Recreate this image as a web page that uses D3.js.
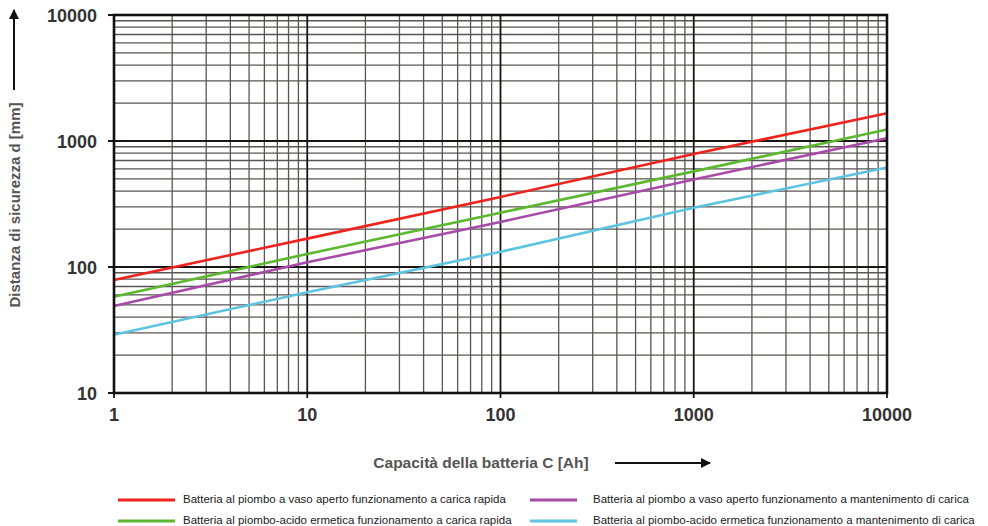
<!DOCTYPE html>
<html>
<head>
<meta charset="utf-8">
<script src="https://cdn.jsdelivr.net/npm/d3@7"></script>
<style>
  html, body { margin: 0; padding: 0; background: #fff; }
  svg { display: block; }
</style>
</head>
<body>
<svg id="chart" width="988" height="526"></svg>
<script>
// Battery capacity (Ah) sampled at each decade
const capacity = [1, 10, 100, 1000, 10000];

// Safety distance d (mm) for each battery type
const ventedFast      = [79, 168, 360, 790, 1660];
const sealedFast      = [58, 127, 270, 574, 1236];
const ventedFloat     = [49, 109, 228, 495, 1050];
const sealedFloat     = [29, 63, 132, 295, 617];

const xTickLabels = ["1", "10", "100", "1000", "10000"];
const yTickLabels = ["10", "100", "1000", "10000"];

const seriesNames = [
  "Batteria al piombo a vaso aperto funzionamento a carica rapida",
  "Batteria al piombo-acido ermetica funzionamento a carica rapida",
  "Batteria al piombo a vaso aperto funzionamento a mantenimento di carica",
  "Batteria al piombo-acido ermetica funzionamento a mantenimento di carica"
];
const seriesColors = ["#f0231c", "#5cb830", "#a84aa8", "#5ec3e0"];
const seriesValues = [ventedFast, sealedFast, ventedFloat, sealedFloat];

const svg = d3.select("#chart");
const plot = { left: 114, right: 887, top: 15, bottom: 393 };

const x = d3.scaleLog().domain([1, 10000]).range([plot.left, plot.right]);
const y = d3.scaleLog().domain([10, 10000]).range([plot.bottom, plot.top]);

// Minor and major grid values
const xMinor = [], yMinor = [];
for (let e = 0; e < 4; e++) for (let k = 2; k <= 9; k++) xMinor.push(k * Math.pow(10, e));
for (let e = 1; e < 4; e++) for (let k = 2; k <= 9; k++) yMinor.push(k * Math.pow(10, e));

const grid = svg.append("g");
grid.selectAll("line.vx").data(xMinor).join("line")
  .attr("x1", d => x(d)).attr("x2", d => x(d))
  .attr("y1", plot.top).attr("y2", plot.bottom)
  .attr("stroke", "#5a5555").attr("stroke-width", 1.3);
grid.selectAll("line.hy").data(yMinor).join("line")
  .attr("y1", d => y(d)).attr("y2", d => y(d))
  .attr("x1", plot.left).attr("x2", plot.right)
  .attr("stroke", "#5a5555").attr("stroke-width", 1.3);

// Major decade lines with small outward ticks
grid.selectAll("line.vmaj").data(capacity).join("line")
  .attr("x1", d => x(d)).attr("x2", d => x(d))
  .attr("y1", plot.top).attr("y2", plot.bottom + 5)
  .attr("stroke", "#1a1616").attr("stroke-width", 1.8);
grid.selectAll("line.hmaj").data(yTickLabels.map(Number)).join("line")
  .attr("y1", d => y(d)).attr("y2", d => y(d))
  .attr("x1", plot.left - 6).attr("x2", plot.right)
  .attr("stroke", "#1a1616").attr("stroke-width", 1.8);

// Curves
const line = d3.line().x(d => x(d[0])).y(d => y(d[1]));
svg.append("g").selectAll("path").data(seriesValues).join("path")
  .attr("d", vals => line(capacity.map((c, i) => [c, vals[i]])))
  .attr("fill", "none")
  .attr("stroke", (d, i) => seriesColors[i])
  .attr("stroke-width", 2.6);

// Frame
svg.append("rect")
  .attr("x", plot.left).attr("y", plot.top)
  .attr("width", plot.right - plot.left).attr("height", plot.bottom - plot.top)
  .attr("fill", "none").attr("stroke", "#111").attr("stroke-width", 2.6);

// Tick labels
const tickFont = "'Liberation Sans', Arial, sans-serif";
svg.append("g").selectAll("text").data(xTickLabels).join("text")
  .attr("x", d => x(+d)).attr("y", 415)
  .attr("text-anchor", "middle").attr("dominant-baseline", "central")
  .attr("font-family", tickFont).attr("font-weight", "bold").attr("font-size", 18)
  .attr("fill", "#333")
  .text(d => d);
svg.append("g").selectAll("text").data(yTickLabels).join("text")
  .attr("x", 97).attr("y", d => y(+d) + 1)
  .attr("text-anchor", "end").attr("dominant-baseline", "central")
  .attr("font-family", tickFont).attr("font-weight", "bold").attr("font-size", 18)
  .attr("fill", "#333")
  .text(d => d);

// Axis titles with direction arrows
svg.append("defs").append("marker")
  .attr("id", "arrow").attr("viewBox", "0 0 10 10")
  .attr("refX", 9).attr("refY", 5)
  .attr("markerWidth", 5).attr("markerHeight", 5)
  .attr("markerUnits", "strokeWidth")
  .attr("orient", "auto")
  .append("path").attr("d", "M0,0 L10,5 L0,10 z").attr("fill", "#111");

svg.append("text")
  .attr("transform", "translate(14,205) rotate(-90)")
  .attr("text-anchor", "middle").attr("dominant-baseline", "central")
  .attr("font-family", tickFont).attr("font-weight", "bold").attr("font-size", 15)
  .attr("fill", "#555")
  .text("Distanza di sicurezza d [mm]");
svg.append("line")
  .attr("x1", 14).attr("x2", 14).attr("y1", 90).attr("y2", 10)
  .attr("stroke", "#111").attr("stroke-width", 2)
  .attr("marker-end", "url(#arrow)");

svg.append("text")
  .attr("x", 481).attr("y", 462)
  .attr("text-anchor", "middle").attr("dominant-baseline", "central")
  .attr("font-family", tickFont).attr("font-weight", "bold").attr("font-size", 15.5)
  .attr("fill", "#555")
  .text("Capacità della batteria C [Ah]");
svg.append("line")
  .attr("x1", 615).attr("x2", 710).attr("y1", 463).attr("y2", 463)
  .attr("stroke", "#111").attr("stroke-width", 2)
  .attr("marker-end", "url(#arrow)");

// Legend: two columns, two rows
const legendPos = [
  { sx: 118, len: 57, tx: 183, y: 499 },
  { sx: 118, len: 57, tx: 183, y: 520 },
  { sx: 530, len: 47, tx: 593, y: 499 },
  { sx: 530, len: 47, tx: 593, y: 520 }
];
const legend = svg.append("g");
seriesNames.forEach((name, i) => {
  const p = legendPos[i];
  legend.append("line")
    .attr("x1", p.sx).attr("x2", p.sx + p.len)
    .attr("y1", p.y + 1).attr("y2", p.y + 1)
    .attr("stroke", seriesColors[i]).attr("stroke-width", 3);
  legend.append("text")
    .attr("x", p.tx).attr("y", p.y)
    .attr("dominant-baseline", "central")
    .attr("font-family", tickFont).attr("font-size", 11.5)
    .attr("fill", "#222")
    .text(name);
});
</script>
</body>
</html>
